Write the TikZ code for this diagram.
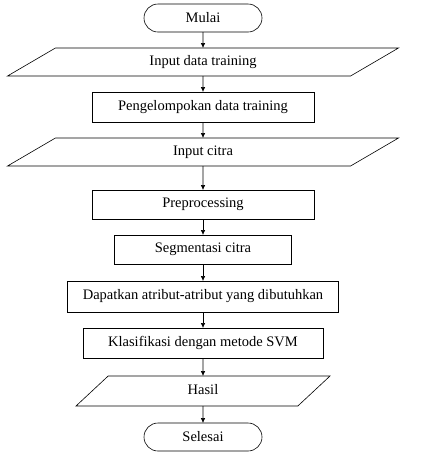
\documentclass[tikz,border=0pt]{standalone}
\usepackage{fontspec}
\setmainfont{Liberation Serif}
\usetikzlibrary{positioning,shapes.geometric,arrows.meta}
\tikzset{
  terminal/.style={draw, rounded corners=14pt, minimum width=118pt, minimum height=28pt, inner sep=0pt, outer sep=0pt},
  process/.style={draw, minimum height=29pt, inner sep=0pt, outer sep=0pt},
  io/.style 2 args={draw, trapezium, trapezium stretches body, trapezium left angle=#1, trapezium right angle=#2,
    text height=10pt, text depth=3pt, inner xsep=0pt, inner ysep=7.5pt, outer sep=0pt},
}
\begin{document}
\begin{tikzpicture}[x=1pt, y=1pt, node distance=16pt, line width=0.6pt,
    font=\fontsize{14.5}{17}\selectfont, >={Latex[length=5pt,width=4.5pt]}]
   \useasboundingbox (0,0) rectangle (441,-456);
   \node[terminal] (mulai) at (203,-18) {Mulai};
   \node[io={30.3}{149.7}, minimum width=391pt] (indata) [below=of mulai] {Input data training};
   \node[process, minimum width=222pt, minimum height=30pt] (kelompok) [below=of indata] {Pengelompokan data training};
   \node[io={30.3}{149.7}, minimum width=391pt] (incitra) [below=of kelompok] {Input citra};
   \node[process, minimum width=222pt] (prepro) [below=24pt of incitra] {Preprocessing};
   \node[process, minimum width=177pt] (segmen) [below=of prepro] {Segmentasi citra};
   \node[process, minimum width=271pt, minimum height=31pt] (atribut) [below=17pt of segmen] {Dapatkan atribut-atribut yang dibutuhkan};
   \node[process, minimum width=240pt, minimum height=30pt] (svm) [below=of atribut] {Klasifikasi dengan metode SVM};
   \node[io={43}{137}, minimum width=254pt, inner ysep=8.5pt] (hasil) [below=18pt of svm] {Hasil};
   \node[terminal] (selesai) [below=17pt of hasil] {Selesai};
   \path[->]
     (mulai)    edge (indata)
     (indata)   edge (kelompok)
     (kelompok) edge (incitra)
     (incitra)  edge (prepro)
     (prepro)   edge (segmen)
     (segmen)   edge (atribut)
     (atribut)  edge (svm)
     (svm)      edge (hasil)
     (hasil)    edge (selesai);
\end{tikzpicture}
\end{document}
